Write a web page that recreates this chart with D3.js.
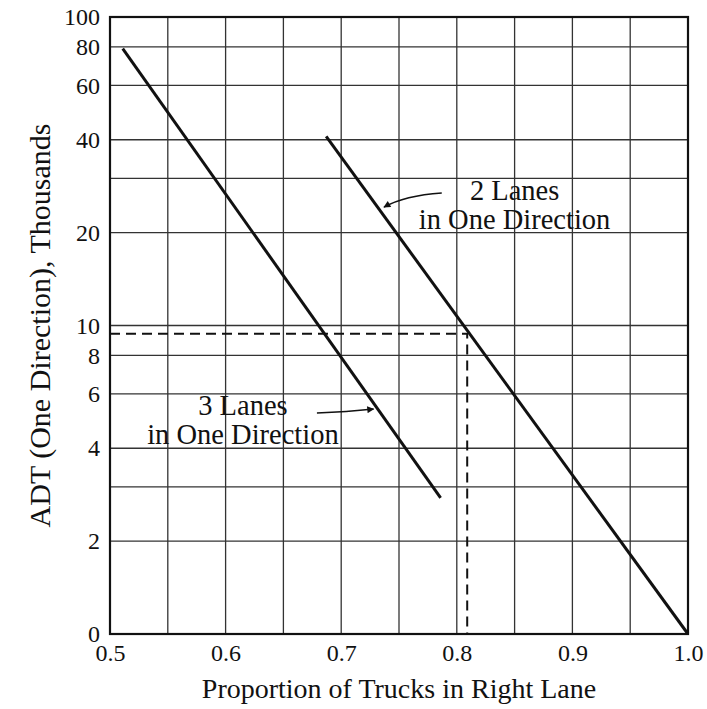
<!DOCTYPE html>
<html>
<head>
<meta charset="utf-8">
<script src="https://cdn.jsdelivr.net/npm/d3@7"></script>
<style>
  body { margin: 0; background: #fff; }
  svg text { font-family: "Liberation Serif", "Times New Roman", serif; }
</style>
</head>
<body>
<script>
const width = 707;
const height = 709;

// Axis ticks
const xTicks = [0.5, 0.6, 0.7, 0.8, 0.9, 1.0];
const xGrid = [0.55, 0.6, 0.65, 0.7, 0.75, 0.8, 0.85, 0.9, 0.95];
const yTicks = [1, 2, 4, 6, 8, 10, 20, 40, 60, 80, 100];
const yTickLabels = ["0", "2", "4", "6", "8", "10", "20", "40", "60", "80", "100"];
const yGrid = [2, 3, 4, 6, 8, 10, 20, 30, 40, 60, 80];

// Lines: proportion of trucks vs ADT (thousands)
const threeLanes = [[0.511, 79], [0.786, 2.76]];
const twoLanes = [[0.687, 41], [1.0, 1]];

// Worked example (dashed)
const exampleAdt = 9.4;
const exampleProp = 0.809;

// Labels
const labels = [
  { lines: ["2 Lanes", "in One Direction"], x: 0.85, y: 25.5 },
  { lines: ["3 Lanes", "in One Direction"], x: 0.615, y: 5.13 }
];
const arrows = [
  { from: [0.787, 26.9], ctrl: [0.755, 26.4], to: [0.737, 24.2] },
  { from: [0.679, 5.2], ctrl: [0.705, 5.25], to: [0.728, 5.36] }
];

const x = d3.scaleLinear().domain([0.5, 1.0]).range([110, 688]);
const y = d3.scaleLog().domain([1, 100]).range([634, 17]);

const svg = d3.select("body").append("svg")
  .attr("width", width)
  .attr("height", height);

svg.append("defs").append("marker")
  .attr("id", "arrow")
  .attr("viewBox", "0 0 10 10")
  .attr("refX", 9).attr("refY", 5)
  .attr("markerWidth", 9).attr("markerHeight", 7)
  .attr("markerUnits", "userSpaceOnUse")
  .attr("orient", "auto")
  .append("path")
  .attr("d", "M0,0L10,5L0,10Z")
  .attr("fill", "#111");

// Grid
svg.append("g").selectAll("line")
  .data(xGrid)
  .join("line")
  .attr("x1", d => x(d)).attr("x2", d => x(d))
  .attr("y1", y(100)).attr("y2", y(1))
  .attr("stroke", "#333")
  .attr("stroke-width", 1.3);

svg.append("g").selectAll("line")
  .data(yGrid)
  .join("line")
  .attr("x1", x(0.5)).attr("x2", x(1.0))
  .attr("y1", d => y(d)).attr("y2", d => y(d))
  .attr("stroke", "#333")
  .attr("stroke-width", 1.3);

// Frame
svg.append("rect")
  .attr("x", x(0.5)).attr("y", y(100))
  .attr("width", x(1.0) - x(0.5))
  .attr("height", y(1) - y(100))
  .attr("fill", "none")
  .attr("stroke", "#111")
  .attr("stroke-width", 2.2);

// Axes
const yAxis = svg.append("g")
  .attr("transform", `translate(${x(0.5)},0)`)
  .call(d3.axisLeft(y).tickValues(yTicks).tickSize(0).tickPadding(10)
    .tickFormat((d, i) => yTickLabels[i]));
yAxis.select(".domain").remove();
yAxis.selectAll("text")
  .attr("font-size", 24)
  .attr("fill", "#111");

const xAxis = svg.append("g")
  .attr("transform", `translate(0,${y(1)})`)
  .call(d3.axisBottom(x).tickValues(xTicks).tickSize(0).tickPadding(10)
    .tickFormat(d3.format(".1f")));
xAxis.select(".domain").remove();
xAxis.selectAll("text")
  .attr("font-size", 24)
  .attr("fill", "#111");

// Dashed example lines
svg.append("path")
  .attr("d", d3.line()([[x(0.5), y(exampleAdt)], [x(exampleProp), y(exampleAdt)], [x(exampleProp), y(1)]]))
  .attr("fill", "none")
  .attr("stroke", "#111")
  .attr("stroke-width", 2)
  .attr("stroke-dasharray", "10,6");

// Lane lines
const line = d3.line().x(d => x(d[0])).y(d => y(d[1]));
svg.selectAll(".lane")
  .data([threeLanes, twoLanes])
  .join("path")
  .attr("class", "lane")
  .attr("d", line)
  .attr("fill", "none")
  .attr("stroke", "#111")
  .attr("stroke-width", 3);

// Labels
labels.forEach(l => {
  const t = svg.append("text")
    .attr("x", x(l.x)).attr("y", y(l.y))
    .attr("text-anchor", "middle")
    .attr("font-size", 28.5)
    .attr("fill", "#111");
  l.lines.forEach((s, i) => {
    t.append("tspan")
      .attr("x", x(l.x))
      .attr("dy", i === 0 ? 0 : 29)
      .text(s);
  });
});

// Arrows
arrows.forEach(a => {
  const p = d3.path();
  p.moveTo(x(a.from[0]), y(a.from[1]));
  p.quadraticCurveTo(x(a.ctrl[0]), y(a.ctrl[1]), x(a.to[0]), y(a.to[1]));
  svg.append("path")
    .attr("d", p.toString())
    .attr("fill", "none")
    .attr("stroke", "#111")
    .attr("stroke-width", 1.5)
    .attr("marker-end", "url(#arrow)");
});

// Axis titles
svg.append("text")
  .attr("x", (x(0.5) + x(1.0)) / 2)
  .attr("y", 698)
  .attr("text-anchor", "middle")
  .attr("font-size", 28)
  .attr("fill", "#111")
  .text("Proportion of Trucks in Right Lane");

svg.append("text")
  .attr("transform", `translate(50,${(y(1) + y(100)) / 2}) rotate(-90)`)
  .attr("text-anchor", "middle")
  .attr("font-size", 30)
  .attr("fill", "#111")
  .text("ADT (One Direction), Thousands");
</script>
</body>
</html>
